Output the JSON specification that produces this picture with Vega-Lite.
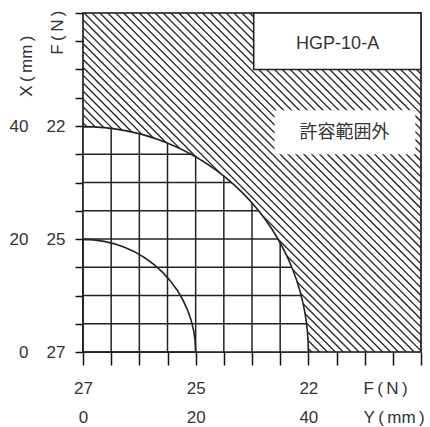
{
  "$schema": "https://vega.github.io/schema/vega-lite/v6.json",
  "width": 338,
  "height": 339,
  "autosize": {"type": "none"},
  "padding": {"left": 83, "top": 13, "right": 9, "bottom": 75},
  "background": "white",
  "config": {
    "view": {"stroke": "#111", "strokeWidth": 1.6},
    "font": "Liberation Sans",
    "axis": {
      "labelFont": "Liberation Sans", "titleFont": "Liberation Sans",
      "labelColor": "#333", "titleColor": "#333",
      "labelFontSize": 17, "titleFontSize": 17, "titleFontWeight": "normal",
      "grid": false, "domain": false, "tickColor": "#111", "tickWidth": 1.5,
      "labelOverlap": false, "labelFlush": false
    }
  },
  "datasets": {
    "hatch": [
      {"c": 39.2, "o": 0}, {"c": 40.6, "o": 0}, {"c": 42, "o": 0}, {"c": 43.4, "o": 0}, {"c": 44.8, "o": 0}, {"c": 46.2, "o": 0},
      {"c": 47.6, "o": 0}, {"c": 49, "o": 0}, {"c": 50.4, "o": 0}, {"c": 51.8, "o": 0}, {"c": 53.2, "o": 0}, {"c": 54.6, "o": 0},
      {"c": 56, "o": 0}, {"c": 57.4, "o": 0}, {"c": 58.8, "o": 0}, {"c": 60.2, "o": 0}, {"c": 61.6, "o": 0}, {"c": 63, "o": 0}, {"c": 64.4, "o": 0}, {"c": 65.8, "o": 0},
      {"c": 67.2, "o": 0}, {"c": 68.6, "o": 0}, {"c": 70, "o": 0}, {"c": 71.4, "o": 0}, {"c": 72.8, "o": 0}, {"c": 74.2, "o": 0}, {"c": 75.6, "o": 0}, {"c": 77, "o": 0},
      {"c": 78.4, "o": 0}, {"c": 79.8, "o": 0}, {"c": 81.2, "o": 0}, {"c": 82.6, "o": 0}, {"c": 84, "o": 0}, {"c": 85.4, "o": 0}, {"c": 86.8, "o": 0}, {"c": 88.2, "o": 0},
      {"c": 89.6, "o": 0}, {"c": 91, "o": 0}, {"c": 92.4, "o": 0}, {"c": 93.8, "o": 0}, {"c": 95.2, "o": 0}, {"c": 96.6, "o": 0}, {"c": 98, "o": 0}, {"c": 99.4, "o": 0},
      {"c": 100.8, "o": 0}, {"c": 102.2, "o": 0}, {"c": 103.6, "o": 0}, {"c": 105, "o": 0}, {"c": 106.4, "o": 0}, {"c": 107.8, "o": 0}, {"c": 109.2, "o": 0}, {"c": 110.6, "o": 0},
      {"c": 112, "o": 0}, {"c": 113.4, "o": 0}, {"c": 114.8, "o": 0}, {"c": 116.2, "o": 0}, {"c": 117.6, "o": 0}, {"c": 119, "o": 0}, {"c": 120.4, "o": 0}
    ],
    "grid": [
      {"p": 5, "e": 39.69, "o": 0}, {"p": 10, "e": 38.73, "o": 0}, {"p": 15, "e": 37.08, "o": 0}, {"p": 20, "e": 34.64, "o": 0},
      {"p": 25, "e": 31.22, "o": 0}, {"p": 30, "e": 26.46, "o": 0}, {"p": 35, "e": 19.36, "o": 0}
    ],
    "arcs": [
      {"r": 40, "o": 0, "t0": 0, "t1": 1.5708},
      {"r": 20, "o": 0, "t0": 0, "t1": 1.5708}
    ],
    "boxes": [
      {"name": "model", "h1": 30.3, "h2": 60, "v1": 50, "v2": 60},
      {"name": "note", "h1": 34, "h2": 59, "v1": 35, "v2": 42.8}
    ],
    "labels": [
      {"t": "HGP-10-A", "h": 45.2, "v": 54.5},
      {"t": "許容範囲外", "h": 46.4, "v": 38.7}
    ]
  },
  "resolve": {"axis": {"x": "independent", "y": "independent"}},
  "layer": [
    {
      "data": {"name": "hatch"},
      "mark": {"type": "rule", "clip": true, "color": "#222", "strokeWidth": 1.3},
      "encoding": {
        "x": {
          "field": "c", "type": "quantitative",
          "scale": {"domain": [0, 60], "nice": false, "zero": false},
          "axis": {
            "orient": "bottom",
            "values": [0, 5, 10, 15, 20, 25, 30, 35, 40, 45, 50, 55, 60],
            "tickSize": 13, "labelPadding": 28, "labelBaseline": "alphabetic", "labelAngle": 0,
            "labelExpr": "datum.value == 0 ? '27' : datum.value == 20 ? '25' : datum.value == 40 ? '22' : ''",
            "title": "F\u2009(\u2009N\u2009)", "titleX": 280, "titleY": 41, "titleAlign": "left",
            "titleBaseline": "alphabetic", "titleAngle": 0
          }
        },
        "x2": {"field": "o"},
        "y": {
          "field": "o", "type": "quantitative",
          "scale": {"domain": [0, 60], "nice": false, "zero": false},
          "axis": {
            "orient": "left",
            "values": [0, 5, 10, 15, 20, 25, 30, 35, 40, 45, 50, 55, 60],
            "tickSize": 8, "labelPadding": 10, "labelBaseline": "middle",
            "labelExpr": "datum.value == 0 ? '27' : datum.value == 20 ? '25' : datum.value == 40 ? '22' : ''",
            "title": "F\u2009(\u2009N\u2009)", "titleX": -26, "titleY": -3, "titleAlign": "right",
            "titleBaseline": "middle", "titleAngle": 270
          }
        },
        "y2": {"field": "c"}
      }
    },
    {
      "data": {"name": "arcs"},
      "transform": [{"filter": "datum.r == 40"}],
      "mark": {"type": "arc", "fill": "white", "strokeWidth": 0},
      "encoding": {
        "x": {"field": "o", "type": "quantitative", "scale": {"domain": [0, 60], "nice": false, "zero": false}, "axis": null},
        "y": {"field": "o", "type": "quantitative", "scale": {"domain": [0, 60], "nice": false, "zero": false}, "axis": null},
        "theta": {"field": "t0", "type": "quantitative", "scale": null},
        "theta2": {"field": "t1"},
        "radius": {"field": "r", "type": "quantitative", "scale": {"type": "linear", "domain": [0, 60], "range": [0, 338], "zero": true}}
      }
    },
    {
      "data": {"name": "grid"},
      "mark": {"type": "rule", "color": "#222", "strokeWidth": 1.5},
      "encoding": {
        "x": {"field": "p", "type": "quantitative", "scale": {"domain": [0, 60], "nice": false, "zero": false}, "axis": null},
        "y": {"field": "o", "type": "quantitative", "scale": {"domain": [0, 60], "nice": false, "zero": false}, "axis": null},
        "y2": {"field": "e"}
      }
    },
    {
      "data": {"name": "grid"},
      "mark": {"type": "rule", "color": "#222", "strokeWidth": 1.5},
      "encoding": {
        "y": {"field": "p", "type": "quantitative", "scale": {"domain": [0, 60], "nice": false, "zero": false}, "axis": null},
        "x": {"field": "o", "type": "quantitative", "scale": {"domain": [0, 60], "nice": false, "zero": false}, "axis": null},
        "x2": {"field": "e"}
      }
    },
    {
      "data": {"name": "arcs"},
      "mark": {"type": "arc", "filled": false, "fill": null, "stroke": "#222", "strokeWidth": 1.6},
      "encoding": {
        "x": {
          "field": "o", "type": "quantitative",
          "scale": {"domain": [0, 60], "nice": false, "zero": false},
          "axis": {
            "orient": "bottom", "values": [0, 20, 40], "ticks": false, "tickSize": 0,
            "labelPadding": 70, "labelBaseline": "alphabetic", "labelAngle": 0,
            "title": "Y\u2009(\u2009mm\u2009)", "titleX": 280, "titleY": 70, "titleAlign": "left",
            "titleBaseline": "alphabetic", "titleAngle": 0
          }
        },
        "y": {
          "field": "o", "type": "quantitative",
          "scale": {"domain": [0, 60], "nice": false, "zero": false},
          "axis": {
            "orient": "left", "values": [0, 20, 40], "ticks": false, "tickSize": 0,
            "labelPadding": 55, "labelBaseline": "middle",
            "title": "X\u2009(\u2009mm\u2009)", "titleX": -57, "titleY": 22, "titleAlign": "right",
            "titleBaseline": "middle", "titleAngle": 270
          }
        },
        "theta": {"field": "t0", "type": "quantitative", "scale": null},
        "theta2": {"field": "t1"},
        "radius": {"field": "r", "type": "quantitative", "scale": {"type": "linear", "domain": [0, 60], "range": [0, 338], "zero": true}}
      }
    },
    {
      "data": {"name": "boxes"},
      "transform": [{"filter": "datum.name == 'model'"}],
      "mark": {"type": "rect", "fill": "white", "stroke": "#222", "strokeWidth": 1.6},
      "encoding": {
        "x": {"field": "h1", "type": "quantitative", "scale": {"domain": [0, 60], "nice": false, "zero": false}, "axis": null},
        "x2": {"field": "h2"},
        "y": {"field": "v1", "type": "quantitative", "scale": {"domain": [0, 60], "nice": false, "zero": false}, "axis": null},
        "y2": {"field": "v2"}
      }
    },
    {
      "data": {"name": "boxes"},
      "transform": [{"filter": "datum.name == 'note'"}],
      "mark": {"type": "rect", "fill": "white", "strokeWidth": 0},
      "encoding": {
        "x": {"field": "h1", "type": "quantitative", "scale": {"domain": [0, 60], "nice": false, "zero": false}, "axis": null},
        "x2": {"field": "h2"},
        "y": {"field": "v1", "type": "quantitative", "scale": {"domain": [0, 60], "nice": false, "zero": false}, "axis": null},
        "y2": {"field": "v2"}
      }
    },
    {
      "data": {"name": "labels"},
      "mark": {"type": "text", "font": "Liberation Sans, Noto Sans CJK JP", "fontSize": 18, "color": "#333", "align": "center", "baseline": "middle"},
      "encoding": {
        "x": {"field": "h", "type": "quantitative", "scale": {"domain": [0, 60], "nice": false, "zero": false}, "axis": null},
        "y": {"field": "v", "type": "quantitative", "scale": {"domain": [0, 60], "nice": false, "zero": false}, "axis": null},
        "text": {"field": "t"}
      }
    }
  ]
}
